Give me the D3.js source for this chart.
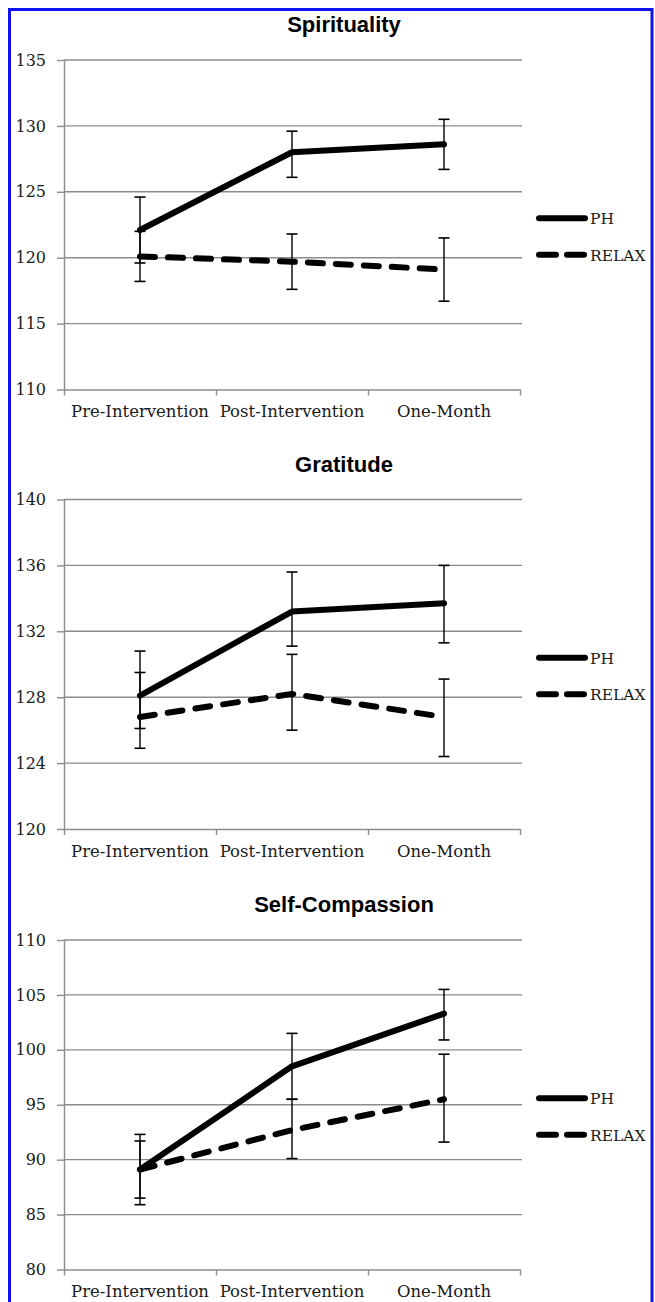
<!DOCTYPE html>
<html>
<head>
<meta charset="utf-8">
<script src="https://cdn.jsdelivr.net/npm/d3@7"></script>
<style>
  body { margin: 0; background: #fff; }
  svg { display: block; }
</style>
</head>
<body>
<script>
// categories and series
const categories = ["Pre-Intervention", "Post-Intervention", "One-Month"]
const seriesNames = ["PH", "RELAX"]

// Spirituality
const spiritTicks = [110, 115, 120, 125, 130, 135]
const spiritPH = [122.1, 128.0, 128.6]
const spiritPHHigh = [124.6, 129.6, 130.5]
const spiritPHLow = [119.6, 126.1, 126.7]
const spiritRelax = [120.1, 119.7, 119.1]
const spiritRelaxHigh = [122.0, 121.8, 121.5]
const spiritRelaxLow = [118.2, 117.6, 116.7]

// Gratitude
const gratTicks = [120, 124, 128, 132, 136, 140]
const gratPH = [128.1, 133.2, 133.7]
const gratPHHigh = [130.8, 135.6, 136.0]
const gratPHLow = [126.1, 131.1, 131.3]
const gratRelax = [126.8, 128.2, 126.8]
const gratRelaxHigh = [129.5, 130.6, 129.1]
const gratRelaxLow = [124.9, 126.0, 124.4]

// Self-Compassion
const selfTicks = [80, 85, 90, 95, 100, 105, 110]
const selfPH = [89.1, 98.5, 103.3]
const selfPHHigh = [92.3, 101.5, 105.5]
const selfPHLow = [85.9, 95.5, 100.9]
const selfRelax = [89.1, 92.7, 95.5]
const selfRelaxHigh = [91.7, 95.5, 99.6]
const selfRelaxLow = [86.5, 90.1, 91.6]

const panels = [
    { title: "Spirituality", ticks: spiritTicks, top: 60,
      series: [
        { mean: spiritPH, hi: spiritPHHigh, lo: spiritPHLow },
        { mean: spiritRelax, hi: spiritRelaxHigh, lo: spiritRelaxLow } ] },
    { title: "Gratitude", ticks: gratTicks, top: 499.5,
      series: [
        { mean: gratPH, hi: gratPHHigh, lo: gratPHLow },
        { mean: gratRelax, hi: gratRelaxHigh, lo: gratRelaxLow } ] },
    { title: "Self-Compassion", ticks: selfTicks, top: 940,
      series: [
        { mean: selfPH, hi: selfPHHigh, lo: selfPHLow },
        { mean: selfRelax, hi: selfRelaxHigh, lo: selfRelaxLow } ] }
]

const width = 655, height = 1302
const plotLeft = 64, plotRight = 520, plotHeight = 329.5
const grey = "#8c8c8c"
const serif = "'DejaVu Serif', serif"

const svg = d3.select("body")
    .append("svg")
    .attr("width", width)
    .attr("height", height)

// blue frame
svg.append("rect")
    .attr("x", 9.5).attr("y", 9.5)
    .attr("width", 642.5).attr("height", 1320)
    .attr("fill", "none")
    .attr("stroke", "#1010f0")
    .attr("stroke-width", 3)

const xScale = d3.scaleBand()
    .domain(categories)
    .range([plotLeft, plotRight])

const xEdges = d3.scaleLinear()
    .domain([0, categories.length])
    .range([plotLeft, plotRight])

const lineStyles = [
    { dash: null },
    { dash: "15,13" }
]

panels.forEach(p => {
    const top = p.top
    const bottom = top + plotHeight
    const yScale = d3.scaleLinear()
        .domain(d3.extent(p.ticks))
        .range([bottom, top])

    const g = svg.append("g")

    // title
    g.append("text")
        .attr("x", 344)
        .attr("y", top - 28)
        .attr("text-anchor", "middle")
        .style("font-family", "'Liberation Sans', Arial, sans-serif")
        .style("font-weight", "bold")
        .style("font-size", "22px")
        .text(p.title)

    // gridlines
    g.append("g")
        .selectAll("line")
        .data(p.ticks.slice(1))
        .enter()
        .append("line")
          .attr("x1", plotLeft)
          .attr("x2", plotRight + 2)
          .attr("y1", d => yScale(d))
          .attr("y2", d => yScale(d))
          .attr("stroke", grey)
          .attr("stroke-width", 1.4)

    // y axis
    const yAxis = g.append("g")
        .attr("transform", `translate(${plotLeft},0)`)
        .call(d3.axisLeft(yScale).tickValues(p.ticks).tickSizeInner(7).tickSizeOuter(0).tickPadding(11))
    yAxis.select(".domain").attr("stroke", grey).attr("stroke-width", 1.4)
    yAxis.selectAll(".tick line").attr("stroke", grey).attr("stroke-width", 1.4)
    yAxis.selectAll("text")
        .style("font-family", serif)
        .style("font-size", "16px")
        .attr("fill", "#1a1a1a")

    // x axis line and ticks at category edges
    const xAxis = g.append("g")
        .attr("transform", `translate(0,${bottom})`)
        .call(d3.axisBottom(xEdges).tickValues(d3.range(categories.length + 1)).tickFormat("").tickSizeInner(6).tickSizeOuter(0))
    xAxis.select(".domain").attr("stroke", grey).attr("stroke-width", 1.4)
    xAxis.selectAll(".tick line").attr("stroke", grey).attr("stroke-width", 1.4)

    // category labels
    const xLabels = g.append("g")
        .attr("transform", `translate(0,${bottom})`)
        .call(d3.axisBottom(xScale).tickSize(0).tickPadding(16))
    xLabels.select(".domain").remove()
    xLabels.selectAll("text")
        .style("font-family", serif)
        .style("font-size", "16.5px")
        .attr("fill", "#1a1a1a")

    const cx = c => xScale(c) + xScale.bandwidth() / 2

    // lines
    p.series.forEach((s, i) => {
        const line = d3.line()
            .x((d, j) => cx(categories[j]))
            .y(d => yScale(d))
        g.append("path")
            .datum(s.mean)
            .attr("d", line)
            .attr("fill", "none")
            .attr("stroke", "#000")
            .attr("stroke-width", 6)
            .attr("stroke-linejoin", "round")
            .attr("stroke-linecap", "round")
            .attr("stroke-dasharray", lineStyles[i].dash)
    })

    // error bars
    p.series.forEach(s => {
        const eb = g.append("g")
        categories.forEach((c, j) => {
            const x = cx(c)
            eb.append("line")
                .attr("x1", x).attr("x2", x)
                .attr("y1", yScale(s.hi[j])).attr("y2", yScale(s.lo[j]))
                .attr("stroke", "#000").attr("stroke-width", 1.4)
            ;[s.hi[j], s.lo[j]].forEach(v => {
                eb.append("line")
                    .attr("x1", x - 5.5).attr("x2", x + 5.5)
                    .attr("y1", yScale(v)).attr("y2", yScale(v))
                    .attr("stroke", "#000").attr("stroke-width", 1.6)
            })
        })
    })

    // legend
    const mid = (top + bottom) / 2
    const legend = g.append("g")
    seriesNames.forEach((name, i) => {
        const ly = mid + (i === 0 ? -6.5 : 30)
        legend.append("line")
            .attr("x1", 539).attr("x2", 585)
            .attr("y1", ly).attr("y2", ly)
            .attr("stroke", "#000")
            .attr("stroke-width", 6)
            .attr("stroke-linecap", "round")
            .attr("stroke-dasharray", i === 0 ? null : "17,11")
        legend.append("text")
            .attr("x", 590)
            .attr("y", ly + 6)
            .style("font-family", serif)
            .style("font-size", "15.5px")
            .attr("fill", "#1a1a1a")
            .text(name)
    })
})
</script>
</body>
</html>
